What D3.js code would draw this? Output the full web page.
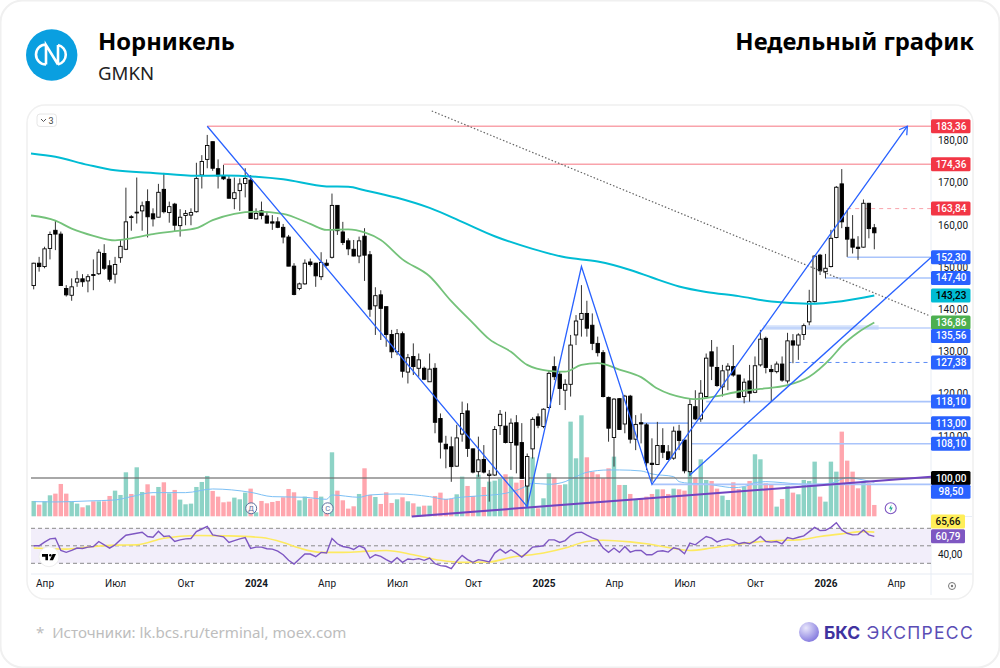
<!DOCTYPE html>
<html>
<head>
<meta charset="utf-8">
<script src="https://cdn.jsdelivr.net/npm/d3@7/dist/d3.min.js"></script>
<style>
  html, body { margin: 0; padding: 0; background: #fff; }
  svg { display: block; }
  text { font-family: Roboto, sans-serif; }
</style>
</head>
<body>
<div id="chart"></div>
<script>
"use strict";

// weekly candles: open, high, low, close
var ohlc = [
  [145.6,151.0,144.7,150.9],[150.9,152.4,148.9,150.1],[150.1,154.8,149.7,154.3],[154.4,158.4,151.8,157.7],
  [158.7,161.0,154.0,157.8],[157.8,158.4,145.6,145.6],[144.9,145.7,143.0,143.4],[143.3,147.3,142.0,145.3],
  [146.4,149.1,145.3,147.2],[147.2,148.3,145.3,146.5],[146.7,148.3,144.0,147.7],[148.2,151.8,144.5,148.0],
  [148.4,154.2,148.1,153.5],[153.2,155.4,149.3,149.7],[150.3,151.6,146.5,147.1],[148.3,152.4,146.1,150.6],
  [152.2,156.4,151.0,154.9],[154.2,168.8,154.0,160.7],[161.9,162.3,158.6,161.8],[162.8,171.2,160.3,163.0],
  [163.3,165.5,158.6,164.5],[165.5,168.4,157.0,161.9],[162.6,163.9,159.6,161.4],[161.8,169.7,161.8,167.7],
  [168.4,172.3,162.7,163.1],[162.9,165.5,160.5,164.3],[164.9,165.2,158.4,159.9],[159.8,163.7,157.2,161.8],
  [162.2,163.5,159.9,162.7],[162.3,163.9,159.9,162.9],[163.1,174.7,162.9,171.0],[171.8,176.5,168.6,175.0],
  [175.5,181.3,173.4,178.8],[179.7,179.7,172.8,173.4],[173.3,175.5,168.6,171.6],[171.6,174.2,170.6,170.9],
  [170.8,171.6,166.2,166.3],[166.2,171.2,163.7,167.6],[168.1,171.0,163.3,169.7],[169.8,173.4,166.5,171.0],
  [170.6,171.8,161.5,161.5],[161.4,163.9,161.3,162.7],[163.3,165.5,161.3,162.2],[162.1,163.1,160.3,160.4],
  [160.7,162.3,158.8,160.4],[160.7,161.8,159.2,159.4],[159.4,160.2,155.6,157.1],[157.1,157.6,150.2,150.2],
  [150.2,150.9,143.3,143.5],[144.9,146.3,144.5,146.0],[146.0,151.8,145.8,150.9],[151.2,152.0,150.1,150.6],
  [150.9,151.0,145.3,147.9],[147.7,153.5,146.9,151.1],[150.9,151.8,150.1,150.4],[152.3,167.4,152.0,164.6],
  [164.6,164.6,157.6,158.6],[158.3,160.7,155.2,155.8],[156.2,156.8,152.8,154.3],[154.2,156.4,152.5,152.6],
  [152.6,157.2,150.9,156.2],[157.3,159.2,146.7,152.8],[152.9,153.8,138.2,140.0],[140.8,145.2,133.9,143.2],
  [143.4,144.5,132.7,140.2],[140.6,140.6,131.1,134.0],[134.0,135.1,128.4,129.9],[129.9,135.3,129.1,134.2],
  [134.2,134.7,123.8,125.3],[125.1,129.4,122.4,128.5],[128.8,131.9,124.4,126.4],[126.0,129.5,124.0,128.0],
  [126.0,126.4,123.2,123.4],[122.8,129.5,122.8,125.8],[126.0,127.2,110.6,113.2],[114.1,115.3,104.6,108.5],
  [108.0,110.0,102.3,106.9],[107.4,109.8,99.1,102.7],[102.8,112.6,102.7,109.5],[110.4,118.1,108.6,115.3],
  [115.9,117.7,105.0,107.0],[106.9,107.0,101.1,101.4],[101.5,109.8,100.3,104.3],[104.4,107.8,101.1,101.4],
  [100.6,101.9,94.4,100.9],[100.7,112.3,100.5,111.5],[112.4,116.1,110.2,115.1],[112.3,115.7,108.2,108.4],
  [108.4,114.1,101.9,113.0],[113.1,114.9,101.1,107.8],[108.4,113.0,99.9,99.9],[98.1,105.8,93.2,105.1],
  [106.9,114.4,104.6,113.9],[114.5,115.3,111.8,112.5],[112.2,116.5,111.8,116.3],[116.7,125.6,116.5,124.8],
  [126.4,128.8,123.2,124.0],[124.6,125.2,117.3,121.2],[120.8,123.4,116.1,122.2],[122.2,133.9,119.3,131.5],
  [133.9,138.6,131.5,137.2],[137.6,145.7,133.5,139.0],[139.0,142.0,133.5,135.5],[136.2,139.0,130.3,131.9],
  [131.9,133.5,128.8,129.7],[129.7,130.3,119.1,119.3],[119.1,119.3,108.6,111.8],[109.6,118.9,102.7,118.7],
  [118.8,118.9,111.4,111.5],[112.8,119.7,110.6,119.4],[119.4,119.7,108.2,109.2],[109.2,114.9,106.6,112.7],
  [113.1,115.3,108.2,112.8],[112.6,113.0,101.9,103.6],[103.5,109.4,99.1,103.2],[103.2,113.3,103.1,107.7],
  [107.7,111.8,104.7,106.1],[106.2,107.8,104.3,104.4],[104.7,112.2,104.3,111.1],[111.1,112.6,106.6,108.9],
  [109.0,109.0,101.1,101.7],[101.5,118.9,100.5,117.4],[116.9,120.8,113.7,114.0],[114.0,123.2,113.3,120.1],
  [119.3,129.5,118.9,128.4],[129.9,132.7,123.2,126.5],[126.2,131.1,121.6,121.9],[121.6,126.8,119.3,125.4],
  [125.6,127.2,120.8,126.5],[126.4,131.5,124.0,124.4],[124.4,124.4,118.9,119.1],[119.3,123.6,117.7,122.7],
  [123.0,126.8,118.1,120.1],[120.3,128.8,120.1,126.6],[126.8,135.1,126.4,132.9],[133.1,133.5,124.8,126.2],
  [125.7,126.8,118.1,125.2],[125.2,127.6,124.8,127.0],[127.0,128.8,122.8,123.2],[123.0,134.4,122.4,132.5],
  [132.5,134.1,127.2,131.5],[131.5,134.3,128.0,133.9],[134.0,136.6,132.7,136.1],[137.0,144.6,136.2,141.8],
  [141.8,152.8,141.6,152.6],[152.8,153.1,148.1,149.1],[148.9,153.1,147.3,149.7],[150.1,158.8,149.9,156.8],
  [157.0,169.2,156.8,168.9],[169.7,173.2,159.2,160.7],[159.4,163.5,152.4,156.6],[156.6,162.3,153.2,154.7],
  [154.7,157.3,151.7,154.4],[154.7,166.0,154.6,165.1],[165.1,165.2,156.8,159.1],[159.3,160.2,154.2,158.1]
];

var volumes = [
  46,35,45,63,68,97,68,45,38,27,33,45,45,45,61,77,64,132,67,147,
  73,96,62,88,102,69,79,50,36,38,88,103,121,76,59,42,44,56,51,71,
  83,12,46,39,43,46,57,82,72,48,59,53,76,59,11,192,77,48,23,30,
  67,144,64,58,37,72,40,51,57,45,39,29,32,32,61,71,52,52,66,119,
  91,61,125,88,104,107,112,126,119,101,109,114,177,24,54,129,116,94,96,284,
  174,303,177,134,126,114,144,179,94,94,67,49,54,59,67,81,81,67,83,81,
  77,134,117,171,109,106,83,62,49,102,82,89,106,186,171,99,94,29,52,91,
  71,66,109,106,164,59,44,164,134,254,167,134,84,104,99,34
];

var rsi = [
  50.0,50.0,54.2,57.9,58.7,44.7,42.5,44.7,47.4,47.0,48.5,49.2,54.9,51.1,47.4,51.1,56.8,62.1,63.2,64.3,
  65.5,60.6,59.8,66.6,60.6,61.3,54.9,56.8,57.9,58.3,66.2,69.2,72.3,62.5,61.3,60.2,53.8,56.0,57.9,59.4,
  47.0,48.5,48.5,46.6,46.2,44.0,39.8,33.4,29.2,34.9,40.6,40.6,37.5,42.5,41.7,58.3,52.3,49.2,48.1,45.8,
  50.0,47.4,36.0,39.8,37.9,34.2,31.1,36.4,31.1,34.9,34.2,35.3,33.4,36.0,29.6,27.4,26.6,24.0,32.3,39.1,
  34.2,31.1,34.2,33.0,31.5,41.7,46.2,41.7,45.5,41.7,37.2,42.5,48.5,49.2,50.0,56.8,56.8,53.8,56.0,61.7,
  65.1,65.5,62.1,59.1,56.8,47.4,42.5,47.4,42.5,49.2,42.8,44.7,44.7,39.8,39.8,43.6,44.3,42.8,47.7,46.2,
  40.9,53.0,51.1,56.0,60.6,58.7,54.5,56.8,57.9,56.0,52.3,53.8,52.3,56.0,60.6,54.9,54.2,54.9,52.3,59.4,
  57.9,59.8,61.3,66.2,71.1,67.4,67.7,71.1,76.4,68.1,64.3,62.5,62.8,68.1,62.5,60.79
];

// moving averages, read at these week indexes
var ma200 = [[-0.5,176.9],[4,176.1],[10,174.2],[15,172.9],[22,172.3],[30,171.6],[35,171.7],[41,171.4],[46,170.8],[54,169.1],
  [58,169.0],[61,168.2],[67,166.4],[73,164.0],[79,160.7],[85,157.3],[92,154.3],[98,152.3],[104,151.3],[110,149.3],
  [114,147.5],[119,145.4],[124,144.1],[130,143.1],[136,141.8],[143,141.3],[149,141.9],[155,143.23]];
var ma50 = [[-0.5,162.2],[4,161.0],[7,159.1],[11,157.4],[15,156.3],[18,156.8],[22,157.8],[26,158.5],[30,159.2],[33,161.1],
  [37,162.6],[41,163.1],[46,162.6],[51,160.2],[54,158.8],[58,158.9],[61,158.2],[64,156.4],[68,151.8],[73,147.8],
  [77,141.9],[81,136.7],[84,132.9],[88,129.9],[91,126.8],[95,125.4],[98,125.2],[101,126.8],[104,127.2],[108,125.7],
  [112,123.9],[115,121.2],[120,119.0],[122,118.7],[126,119.4],[130,120.5],[134,121.1],[139,122.0],[143,124.0],
  [147,128.4],[149,131.3],[152,134.5],[155,136.86]];
var volumeMa = [[0,44],[4,43],[10,46],[15,49],[18,59],[22,71],[28,71],[33,82],[40,72],[44,59],[50,57],[54,51],[55,64],[60,57],
  [62,64],[67,67],[73,59],[76,51],[78,56],[82,61],[87,69],[90,84],[92,99],[95,96],[98,104],[100,119],[102,132],[106,139],
  [108,139],[112,136],[114,127],[118,119],[119,104],[121,99],[124,97],[126,92],[129,86],[131,89],[133,101],[135,104],
  [138,101],[141,97],[144,96],[147,99],[150,116],[152,112],[155,102]];
var rsiMa = [[0,47.4],[6,46.2],[10,48.5],[15,50.8],[19,51.1],[24,58.7],[30,61.7],[36,61.3],[42,59.4],[46,53.8],[49,47.4],
  [53,42.5],[57,42.5],[60,43.2],[65,44.7],[70,39.8],[75,33.4],[79,31.1],[84,31.5],[88,36.8],[94,41.7],[98,47.4],
  [102,55.0],[105,56.4],[110,54.5],[113,52.3],[117,48.0],[121,44.7],[125,47.4],[129,51.1],[133,54.2],[137,56.0],
  [141,56.8],[145,60.6],[149,63.6],[153,66.2],[155,65.66]];

// hand drawn levels: price, first week
var levelPrices = [183.36,174.36,163.84,152.30,147.40,135.56,127.38,118.10,113.00,108.10,98.50];
var levelStarts = [32,35,150,150,146,135,139,124,112,121,114];
var levelColors = ["#f9a3ab","#f9a3ab","#f9a3ab","#a9c4fb","#a9c4fb","#bcd1fb","#5b8cf5","#a9c4fb","#6d9bf8","#a9c4fb","#a9c4fb"];
var levelWidths = [1.6,1.6,1,1.6,1.6,1.6,1,1.6,1.1,1.6,1.6];
var levelDashed = [false,false,true,false,false,false,true,false,false,false,false];

// drawn trend lines as [week, price] pairs
var zigzag = [[32,183.36],[91,93.2],[101,150.1],[114,98.5],[161.1,183.36]];
var channelLine = [[121,100.7],[165.5,152.3]];
var supportLine = [[69.7,90.9],[165.5,100.3]];
var dottedLine = [[73.4,186.97],[165.3,138.39]];

var priceTicks = [110,120,130,140,150,160,170,180];
var timeTicks = [2,15,28,41,54,67,81,94,107,120,133,146,159];
var timeLabels = ["Апр","Июл","Окт","2024","Апр","Июл","Окт","2025","Апр","Июл","Окт","2026","Апр"];

var tagValues = [183.36,174.36,163.84,152.30,147.40,143.23,136.86,135.56,127.38,118.10,113.00,108.10,100.00,98.50];
var tagFills = ["#f23645","#f23645","#f23645","#2962ff","#2962ff","#00bcd4","#4caf50","#2962ff","#2962ff","#2962ff","#2962ff","#2962ff","#000","#2962ff"];
var tagInk = ["#fff","#fff","#fff","#fff","#fff","#000","#fff","#fff","#fff","#fff","#fff","#fff","#fff","#fff"];
var tagShift = [0,0,0,0,0,0,0,8,0,0,0,0,0,7.5];

var fmt = function (v) { return v.toFixed(2).replace(".", ","); };

var svg = d3.select("#chart").append("svg").attr("width", 1000).attr("height", 668);
var axisX = 931;

var x = d3.scaleLinear().domain([0, 155]).range([33.7, 874.3]);
var y = d3.scaleLinear().domain([100, 180]).range([478, 140.4]);
var volY = d3.scaleLinear().domain([0, 300]).range([516.3, 416.3]);
var rsiY = d3.scaleLinear().domain([30, 70]).range([563.3, 528.3]);

var priceLine = d3.line().x(function (d) { return x(d[0]); }).y(function (d) { return y(d[1]); });

// outer card and chart card
svg.append("rect").attr("x", 0.5).attr("y", 0.5).attr("width", 999).attr("height", 667).attr("rx", 22)
    .attr("fill", "#fff").attr("stroke", "#f0f0f0").attr("stroke-width", 2);
svg.append("rect").attr("x", 27).attr("y", 105).attr("width", 946).attr("height", 494).attr("rx", 18)
    .attr("fill", "#fff").attr("stroke", "#f0f0f0").attr("stroke-width", 1.5);

// header
svg.append("circle").attr("cx", 51.7).attr("cy", 55).attr("r", 25.7).attr("fill", "#0a9fe0");
svg.append("path").attr("fill", "none").attr("stroke", "#fff").attr("stroke-width", 2.6)
    .attr("d", "M46 44.5A10 10 0 0 0 46 64.5M46 64.5V45L58 64.5M58 64.5V45M58 45A10 10 0 0 1 58 64.5");
svg.append("text").attr("x", 98).attr("y", 50).attr("font-size", 23.8).attr("font-weight", 700)
    .style("font-family", "'Noto Sans'").text("Норникель");
svg.append("text").attr("x", 98).attr("y", 80).attr("font-size", 18.6).attr("fill", "#222")
    .style("font-family", "'Noto Sans'").text("GMKN");
svg.append("text").attr("x", 974).attr("y", 50).attr("font-size", 23.8).attr("font-weight", 700)
    .attr("text-anchor", "end").style("font-family", "'Noto Sans'").text("Недельный график");

// footer
svg.append("text").attr("x", 36).attr("y", 638).attr("font-size", 15.1).attr("fill", "#bdbdbd")
    .style("font-family", "'Noto Sans'").attr("xml:space", "preserve").text("*  Источники: lk.bcs.ru/terminal, moex.com");
var ballGrad = svg.append("defs").append("radialGradient").attr("id", "ball").attr("cx", "35%").attr("cy", "30%").attr("r", "80%");
ballGrad.append("stop").attr("offset", "0%").attr("stop-color", "#e8e6fb");
ballGrad.append("stop").attr("offset", "100%").attr("stop-color", "#7b70dc");
svg.append("circle").attr("cx", 809).attr("cy", 632).attr("r", 10).attr("fill", "url(#ball)");
svg.append("text").attr("x", 824).attr("y", 638.5).attr("font-size", 17.5).attr("font-weight", 700).attr("fill", "#40329f")
    .style("font-family", "Inter").text("БКС");
svg.append("text").attr("x", 974).attr("y", 638.5).attr("font-size", 17.5).attr("fill", "#5a4db5").attr("text-anchor", "end")
    .attr("letter-spacing", 1.3).style("font-family", "Inter").text("ЭКСПРЕСС");

// pane frame lines
svg.append("line").attr("x1", axisX).attr("x2", axisX).attr("y1", 110).attr("y2", 595).attr("stroke", "#e8edf5");
svg.append("line").attr("x1", 31).attr("x2", 972).attr("y1", 574).attr("y2", 574).attr("stroke", "#e6ebf3");
svg.append("line").attr("x1", axisX).attr("x2", 972).attr("y1", 516.5).attr("y2", 516.5).attr("stroke", "#e8edf5");

// volume
svg.append("g").selectAll("rect").data(volumes).enter().append("rect")
    .attr("x", function (d, i) { return x(i) - 2.2; })
    .attr("width", 4.4)
    .attr("y", function (d) { return volY(d); })
    .attr("height", function (d) { return volY(0) - volY(d); })
    .attr("fill", function (d, i) { return ohlc[i][3] >= ohlc[i][0] ? "#8dd3c6" : "#ffa6ae"; });
svg.append("path").datum(volumeMa).attr("fill", "none").attr("stroke", "#7cc0f5").attr("stroke-width", 1)
    .attr("d", d3.line().curve(d3.curveMonotoneX).x(function (d) { return x(d[0]); }).y(function (d) { return volY(d[1]); }));

// 100 line sits above the volume
svg.append("line").attr("x1", 31).attr("x2", axisX).attr("y1", y(100)).attr("y2", y(100))
    .attr("stroke", "#6e6e6e").attr("stroke-opacity", 0.8).attr("stroke-width", 1.3);

// pale zone under the 135,56 level
svg.append("rect").attr("x", x(134.5)).attr("width", x(155.8) - x(134.5))
    .attr("y", y(136.2)).attr("height", y(135.1) - y(136.2)).attr("fill", "#d4e2fb");

// levels
svg.append("g").selectAll("line").data(levelPrices).enter().append("line")
    .attr("x1", function (d, i) { return x(levelStarts[i]); })
    .attr("x2", axisX)
    .attr("y1", function (d) { return y(d); })
    .attr("y2", function (d) { return y(d); })
    .attr("stroke", function (d, i) { return levelColors[i]; })
    .attr("stroke-width", function (d, i) { return levelWidths[i]; })
    .attr("stroke-dasharray", function (d, i) { return levelDashed[i] ? "4,4" : null; });

// candles
var candle = svg.append("g").selectAll("g").data(ohlc).enter().append("g");
candle.append("line")
    .attr("x1", function (d, i) { return x(i); })
    .attr("x2", function (d, i) { return x(i); })
    .attr("y1", function (d) { return y(d[1]); })
    .attr("y2", function (d) { return y(d[2]); })
    .attr("stroke", "#333");
candle.append("rect")
    .attr("x", function (d, i) { return x(i) - 1.7; })
    .attr("width", 3.4)
    .attr("y", function (d) { return y(Math.max(d[0], d[3])); })
    .attr("height", function (d) { return Math.max(0.8, Math.abs(y(d[0]) - y(d[3]))); })
    .attr("fill", function (d) { return d[3] >= d[0] ? "#fff" : "#000"; })
    .attr("stroke", "#000").attr("stroke-width", 0.9);

// moving averages
svg.append("path").datum(ma200).attr("fill", "none").attr("stroke", "#00bcd4").attr("stroke-width", 2)
    .attr("d", priceLine.curve(d3.curveMonotoneX));
svg.append("path").datum(ma50).attr("fill", "none").attr("stroke", "#74c27a").attr("stroke-width", 1.8)
    .attr("d", priceLine);
priceLine.curve(d3.curveLinear);

// drawings
svg.append("path").datum(dottedLine).attr("fill", "none").attr("stroke", "#666").attr("stroke-width", 1.2)
    .attr("stroke-dasharray", "1.5,2").attr("d", priceLine);
svg.append("path").datum(supportLine).attr("fill", "none").attr("stroke", "#7044c0").attr("stroke-width", 2)
    .attr("d", priceLine);
svg.append("path").datum(zigzag).attr("fill", "none").attr("stroke", "#2962ff").attr("stroke-width", 1.3)
    .attr("d", priceLine);
svg.append("path").datum(channelLine).attr("fill", "none").attr("stroke", "#2962ff").attr("stroke-width", 1.3)
    .attr("d", priceLine);

// arrow head at the end of the zigzag
var tip = zigzag[zigzag.length - 1], prev = zigzag[zigzag.length - 2];
var ang = Math.atan2(y(prev[1]) - y(tip[1]), x(prev[0]) - x(tip[0]));
var head = d3.path();
head.moveTo(x(tip[0]) + 9 * Math.cos(ang - 0.55), y(tip[1]) + 9 * Math.sin(ang - 0.55));
head.lineTo(x(tip[0]), y(tip[1]));
head.lineTo(x(tip[0]) + 9 * Math.cos(ang + 0.55), y(tip[1]) + 9 * Math.sin(ang + 0.55));
svg.append("path").attr("d", head.toString()).attr("fill", "none").attr("stroke", "#2962ff").attr("stroke-width", 1.3);

// rsi pane
svg.append("rect").attr("x", 31).attr("width", axisX - 31).attr("y", rsiY(70)).attr("height", rsiY(30) - rsiY(70)).attr("fill", "#f2eefa");
svg.append("g").selectAll("line").data([70, 50, 30]).enter().append("line")
    .attr("x1", 31).attr("x2", axisX)
    .attr("y1", function (d) { return rsiY(d); })
    .attr("y2", function (d) { return rsiY(d); })
    .attr("stroke", "#8a8a8a").attr("stroke-dasharray", "4,3");
svg.append("path").datum(rsiMa).attr("fill", "none").attr("stroke", "#fdea60").attr("stroke-width", 1.6)
    .attr("d", d3.line().curve(d3.curveMonotoneX).x(function (d) { return x(d[0]); }).y(function (d) { return rsiY(d[1]); }));
svg.append("path").datum(rsi).attr("fill", "none").attr("stroke", "#7e57c2").attr("stroke-width", 1.4)
    .attr("d", d3.line().x(function (d, i) { return x(i); }).y(function (d) { return rsiY(d); }));

// axes
var priceAxis = svg.append("g").attr("transform", "translate(938,0)")
    .call(d3.axisRight(y).tickValues(priceTicks).tickFormat(fmt).tickSize(0).tickPadding(0));
var rsiAxis = svg.append("g").attr("transform", "translate(938,0)")
    .call(d3.axisRight(rsiY).tickValues([40]).tickFormat(fmt).tickSize(0).tickPadding(0));
var timeAxis = svg.append("g").attr("transform", "translate(0,580)")
    .call(d3.axisBottom(x).tickValues(timeTicks).tickSize(0).tickPadding(0)
        .tickFormat(function (d, i) { return timeLabels[i]; }));
[priceAxis, rsiAxis, timeAxis].forEach(function (a) {
    a.select(".domain").remove();
    a.selectAll("text").attr("fill", "#131722").style("font-family", "Roboto").attr("font-size", 10);
});
timeAxis.selectAll("text").attr("font-weight", function (d, i) { return /^\d+$/.test(timeLabels[i]) ? 700 : 400; });

// price tags
var tag = svg.append("g").selectAll("g").data(tagValues).enter().append("g")
    .attr("transform", function (d, i) { return "translate(" + axisX + "," + (y(d) + tagShift[i]) + ")"; });
tag.append("rect").attr("y", -7).attr("width", 39.5).attr("height", 14).attr("rx", 1.5)
    .attr("fill", function (d, i) { return tagFills[i]; });
tag.append("text").attr("x", 20).attr("dy", ".35em").attr("text-anchor", "middle").attr("font-size", 10).attr("font-weight", 500)
    .attr("fill", function (d, i) { return tagInk[i]; }).text(fmt);

var rsiTags = [65.66, 60.79];
var rsiTagFills = ["#ffee58", "#7e57c2"];
var rsiTagInk = ["#111", "#fff"];
var rsiTagShift = [-10.5, 0];
var rt = svg.append("g").selectAll("g").data(rsiTags).enter().append("g")
    .attr("transform", function (d, i) { return "translate(" + axisX + "," + (rsiY(d) + rsiTagShift[i]) + ")"; });
rt.append("rect").attr("y", -7).attr("width", 34).attr("height", 14).attr("rx", 1.5)
    .attr("fill", function (d, i) { return rsiTagFills[i]; });
rt.append("text").attr("x", 17).attr("dy", ".35em").attr("text-anchor", "middle").attr("font-size", 10).attr("font-weight", 500)
    .attr("fill", function (d, i) { return rsiTagInk[i]; }).text(fmt);

// small chart furniture
var btn = svg.append("g");
btn.append("rect").attr("x", 37).attr("y", 114).attr("width", 19.5).attr("height", 12.5).attr("rx", 3)
    .attr("fill", "#fff").attr("stroke", "#e6e6e6");
btn.append("path").attr("d", "M41 119l2.5 2.5L46 119").attr("fill", "none").attr("stroke", "#555");
btn.append("text").attr("x", 48.5).attr("y", 123.7).attr("font-size", 9).attr("fill", "#444").text("3");

var eventMarks = svg.append("g").selectAll("g").data([[40.1, "Д"], [54.2, "С"]]).enter().append("g")
    .attr("transform", function (d) { return "translate(" + x(d[0]) + ",508.3)"; });
eventMarks.append("circle").attr("r", 5.5).attr("fill", "#fff").attr("fill-opacity", 0.85).attr("stroke", "#5c6f9c");
eventMarks.append("text").attr("dy", ".35em").attr("text-anchor", "middle").attr("font-size", 7.5).attr("fill", "#5c6f9c")
    .text(function (d) { return d[1]; });

svg.append("circle").attr("cx", 890.7).attr("cy", 508.3).attr("r", 5.5).attr("fill", "#fff").attr("stroke", "#7e57c2").attr("stroke-width", 1.1);
svg.append("path").attr("d", "M891.5 504.5l-2.5 4.3h1.8l-.6 3.4 2.6-4.6h-1.8z").attr("fill", "#22ab94");

svg.append("circle").attr("cx", 49).attr("cy", 556.7).attr("r", 10).attr("fill", "#fff").attr("stroke", "#eee");
svg.append("path").attr("d", "M42 554h6v6.2h-2.6v-3.4H42zM52.6 554h3.4l-3 6.2h-3.4z").attr("fill", "#000");
svg.append("circle").attr("cx", 50.3).attr("cy", 555.3).attr("r", 1.2).attr("fill", "#000");

svg.append("circle").attr("cx", 952).attr("cy", 586).attr("r", 3.5).attr("fill", "none").attr("stroke", "#777");
svg.append("circle").attr("cx", 952).attr("cy", 586).attr("r", 1.2).attr("fill", "#777");
</script>
</body>
</html>
